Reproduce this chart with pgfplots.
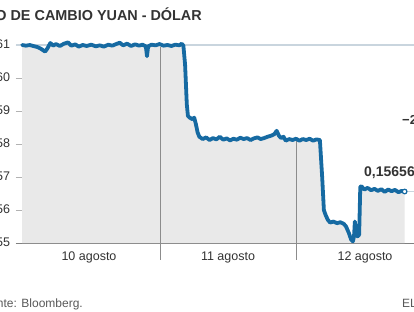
\documentclass[border=0pt]{standalone}
\usepackage{pgfplots}
\pgfplotsset{compat=1.18}
\usepackage{pgfplotstable}
\usepackage{fontspec}
\setmainfont{Liberation Sans}
\definecolor{lineblue}{RGB}{22,106,162}
\definecolor{fillgray}{RGB}{233,233,233}
\definecolor{refline}{RGB}{201,213,222}
\definecolor{txt}{RGB}{51,51,51}
\pgfplotstableread{
h v
-0.15 0.16100
0.5 0.16098
1.2 0.16100
1.8 0.16097
2.5 0.16094
3.2 0.16088
3.9 0.16080
4.3 0.16090
4.8 0.16106
5.3 0.16098
5.8 0.16103
6.5 0.16097
7.2 0.16104
7.9 0.16108
8.5 0.16098
9.2 0.16102
9.8 0.16095
10.5 0.16100
11.2 0.16097
12.0 0.16101
12.8 0.16096
13.5 0.16099
14.2 0.16095
15.0 0.16101
15.7 0.16098
16.4 0.16103
17.0 0.16107
17.6 0.16099
18.3 0.16104
19.0 0.16097
19.7 0.16102
20.4 0.16098
21.0 0.16101
21.6 0.16096
21.8 0.16066
22.0 0.16096
22.6 0.16101
23.3 0.16099
24.0 0.16103
24.7 0.16098
25.4 0.16100
26.1 0.16097
26.8 0.16101
27.5 0.16099
27.9 0.16104
28.2 0.16098
28.5 0.16040
28.8 0.15920
29.0 0.15885
29.3 0.15880
29.8 0.15875
30.1 0.15880
30.4 0.15860
30.7 0.15835
31.0 0.15822
31.6 0.15815
32.2 0.15820
32.8 0.15812
33.4 0.15818
34.0 0.15814
34.6 0.15822
35.2 0.15813
35.8 0.15817
36.4 0.15811
37.0 0.15816
37.6 0.15813
38.2 0.15819
38.8 0.15815
39.4 0.15818
40.0 0.15812
40.6 0.15817
41.2 0.15820
41.8 0.15815
42.4 0.15818
43.0 0.15822
43.6 0.15825
44.2 0.15830
44.6 0.15840
45.0 0.15825
45.4 0.15818
45.8 0.15822
46.2 0.15810
46.8 0.15815
47.4 0.15812
48.0 0.15816
48.6 0.15810
49.2 0.15815
49.8 0.15812
50.4 0.15816
51.0 0.15810
51.6 0.15814
52.2 0.15812
52.6 0.15700
52.9 0.15600
53.2 0.15585
53.6 0.15570
54.0 0.15562
54.6 0.15565
55.2 0.15560
55.8 0.15563
56.4 0.15558
56.8 0.15550
57.3 0.15530
57.7 0.15510
58.0 0.15505
58.2 0.15520
58.35 0.15565
58.5 0.15540
58.8 0.15520
59.1 0.15525
59.3 0.15670
59.5 0.15672
60.0 0.15662
60.6 0.15667
61.2 0.15660
61.8 0.15664
62.4 0.15658
63.0 0.15663
63.6 0.15655
64.2 0.15662
64.8 0.15657
65.4 0.15661
66.0 0.15654
66.6 0.15658
67.1 0.15656
}\yuan
\begin{document}
\begin{tikzpicture}[x=1pt,y=1pt]
\fill[white] (0,0) rectangle (414,311);
\path[use as bounding box, clip] (0,0) rectangle (414,311);
\begin{axis}[
  at={(16pt,68pt)}, anchor=south west,
  scale only axis, width=398pt, height=198pt,
  xmin=-1.2308, xmax=68.747, ymin=0.155, ymax=0.161,
  clip=false,
  axis x line*=bottom, axis y line*=left,
  x axis line style={draw=black!50, line width=1pt},
  y axis line style={draw=none},
  xtick=\empty,
  ytick={0.155,0.156,0.157,0.158,0.159,0.160,0.161},
  tick align=inside, major tick length=15pt,
  ytick style={draw=black!30, line width=1pt},
  scaled y ticks=false,
  yticklabel style={xshift=-2.5pt, /pgf/number format/use comma, /pgf/number format/fixed, /pgf/number format/fixed zerofill, /pgf/number format/precision=3, /pgf/number format/assume math mode=true},
  ticklabel style={font=\fontsize{12.5}{14}\selectfont, text=txt},
]
\addplot[fill=fillgray, draw=none] table[x=h,y=v]{\yuan} \closedcycle;
\draw[refline, line width=1.2pt] (axis cs:-1.2308,0.161) -- (axis cs:68.747,0.161);
\draw[refline, line width=1.2pt] (axis cs:67.1,0.15656) -- (axis cs:68.747,0.15656);
\draw[black!45, line width=1pt] (axis cs:24.18,0.154485) -- (axis cs:24.18,0.16095);
\draw[black!45, line width=1pt] (axis cs:48.0,0.154485) -- (axis cs:48.0,0.15814);
\addplot[lineblue, line width=3.8pt, line join=round, line cap=round] table[x=h,y=v]{\yuan};
\addplot[only marks, mark=*, mark size=2.3pt, mark options={fill=white, draw=lineblue, line width=1.2pt}] coordinates {(67.1,0.15656)};
\end{axis}
\node[anchor=east, font=\bfseries\fontsize{14.4}{17}\selectfont, text=txt, inner sep=0pt] at (202,297) {TIPO DE CAMBIO YUAN - DÓLAR};
\node[anchor=west, font=\bfseries\fontsize{13}{15}\selectfont, text=txt, inner sep=0pt] at (402,190) {−2,8\%};
\node[anchor=west, font=\bfseries\fontsize{14}{16}\selectfont, text=txt, inner sep=0pt] at (364,138) {0,15656};
\foreach \xx/\lab in {89/10 agosto, 228/11 agosto, 365/12 agosto}
  \node[font=\fontsize{12.5}{14}\selectfont, text=txt, inner sep=0pt] at (\xx,54) {\lab};
\node[anchor=base east, font=\fontsize{12}{14}\selectfont, text=black!65, inner sep=0pt] at (83,4) {Fuente: Bloomberg.};
\node[anchor=base west, font=\fontsize{12}{14}\selectfont, text=black!65, inner sep=0pt] at (402,4) {EL PAÍS};
\end{tikzpicture}
\end{document}
